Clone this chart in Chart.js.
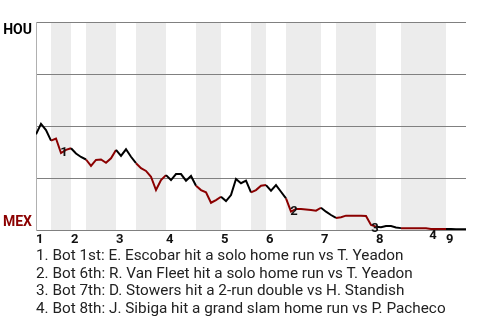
<!DOCTYPE html>
<html>
<head>
<meta charset="utf-8">
<script src="https://cdn.jsdelivr.net/npm/chart.js@4/dist/chart.umd.min.js"></script>
<style>
  html, body { margin: 0; padding: 0; background: #fff; }
  #wrap { position: relative; width: 480px; height: 320px; overflow: hidden; }
  #chartBox { position: absolute; left: 0; top: 0; width: 480px; height: 250px; }
  #notes {
    position: absolute; left: 36px; top: 247px; margin: 0; padding: 0;
    list-style: none; font: 15.3px Roboto, sans-serif; line-height: 17.7px; color: #222;
  }
</style>
</head>
<body>
<div id="wrap">
  <div id="chartBox"><canvas id="c"></canvas></div>
  <ul id="notes"></ul>
</div>
<script>
// Houston win probability (%) after each play of the game
const winProb = [
  46, 51, 48, 43, 44, 37, 38.5, 39.3, 36.8, 35.1,
  33.9, 30.8, 33.7, 33.9, 32.3, 34.5, 38.5, 35.6, 38.8, 35.2,
  32.1, 29.7, 28.4, 25.6, 19.2, 24, 26.4, 24, 26.9, 26.9,
  23.7, 26, 21.3, 19.2, 18.1, 13.1, 14.4, 16, 13.9, 16.8,
  24.5, 22.5, 23.7, 18.1, 19.2, 21.3, 21.6, 18.9, 21.6, 18.4,
  15.2, 8.8, 10.1, 10.1, 9.9, 9.6, 9.3, 10.7, 8.8, 7.2,
  5.8, 6.1, 6.9, 6.9, 6.9, 6.9, 6.7, 2.4, 1.6, 1.3,
  1.9, 1.9, 1.2, 0.9, 0.8, 0.8, 0.8, 0.8, 0.8, 0.5,
  0.5, 0.5, 0.5, 0.5, 0.4, 0.4, 0.4
];

// Play index where each half inning begins
const topHalfStarts = [0, 7, 16, 26, 37, 46, 57, 68, 82];
const bottomHalfStarts = [3, 10, 20, 32, 43, 50, 60, 73];
const lastPlay = 86;
const inningLabels = ['1', '2', '3', '4', '5', '6', '7', '8', '9'];

const awayTeam = 'HOU';
const homeTeam = 'MEX';

// Key plays: play index and description
const keyPlays = [5, 51, 67, 79];
const keyPlayNotes = [
  'Bot 1st: E. Escobar hit a solo home run vs T. Yeadon',
  'Bot 6th: R. Van Fleet hit a solo home run vs T. Yeadon',
  'Bot 7th: D. Stowers hit a 2-run double vs H. Standish',
  'Bot 8th: J. Sibiga hit a grand slam home run vs P. Pacheco'
];
// pixel nudges for the numbered markers
const markerNudge = [[3, 0], [3, 0], [4, 4], [2, 7]];

const RED = '#8b0000';
const BLACK = '#000000';
const BAND = '#ececec';

// Ranges [start, end) of the bottom halves
const bottomRanges = bottomHalfStarts.map((s, k) => [s, topHalfStarts[k + 1] ?? lastPlay]);
const inBottom = i => bottomRanges.some(([s, e]) => i >= s && i < e);

const notes = document.getElementById('notes');
keyPlayNotes.forEach((t, k) => {
  const li = document.createElement('li');
  li.textContent = (k + 1) + '. ' + t;
  notes.appendChild(li);
});

const bandsPlugin = {
  id: 'bands',
  beforeDraw(chart) {
    const { ctx, chartArea: a, scales: { x } } = chart;
    ctx.save();
    ctx.fillStyle = BAND;
    bottomRanges.forEach(([s, e]) => {
      const x0 = x.getPixelForValue(s), x1 = x.getPixelForValue(e);
      ctx.fillRect(x0, a.top, x1 - x0, a.bottom - a.top);
    });
    ctx.restore();
  }
};

const teamLabels = {
  id: 'teamLabels',
  afterDraw(chart) {
    const { ctx, chartArea: a } = chart;
    ctx.save();
    ctx.font = 'bold 14px Roboto, sans-serif';
    ctx.textAlign = 'right';
    ctx.textBaseline = 'alphabetic';
    ctx.fillStyle = BLACK;
    ctx.fillText(awayTeam, a.left - 4, a.top + 12);
    ctx.fillStyle = RED;
    ctx.fillText(homeTeam, a.left - 4, a.bottom - 4);
    ctx.restore();
  }
};

const markers = {
  id: 'markers',
  afterDatasetsDraw(chart) {
    const { ctx, scales: { x, y } } = chart;
    ctx.save();
    ctx.font = 'bold 13px Roboto, sans-serif';
    ctx.textAlign = 'center';
    ctx.textBaseline = 'middle';
    ctx.fillStyle = '#111';
    keyPlays.forEach((p, k) => {
      const px = x.getPixelForValue(p) + markerNudge[k][0];
      const py = y.getPixelForValue(winProb[p]) + markerNudge[k][1];
      ctx.fillText(String(k + 1), px, py);
    });
    ctx.restore();
  }
};

new Chart(document.getElementById('c'), {
  type: 'line',
  data: {
    datasets: [{
      data: winProb.map((v, i) => ({ x: i, y: v })),
      borderColor: BLACK,
      borderWidth: 2,
      pointRadius: 0,
      tension: 0,
      fill: false,
      segment: {
        borderColor: c => inBottom(c.p0DataIndex) ? RED : BLACK
      }
    }]
  },
  options: {
    responsive: true,
    maintainAspectRatio: false,
    animation: false,
    layout: { padding: { left: 36, right: 14, top: 22, bottom: 0 } },
    plugins: { legend: { display: false }, tooltip: { enabled: false } },
    scales: {
      x: {
        type: 'linear',
        min: 0,
        max: lastPlay,
        grid: { display: false, drawTicks: false },
        border: { display: false },
        afterBuildTicks: s => { s.ticks = topHalfStarts.map(v => ({ value: v })); },
        afterFit: s => { s.height = 20; },
        ticks: {
          autoSkip: false,
          maxRotation: 0,
          align: 'start',
          padding: 2,
          color: '#111',
          font: { family: 'Roboto', size: 13, weight: 'bold' },
          callback: (v, i) => inningLabels[i]
        }
      },
      y: {
        min: 0,
        max: 100,
        afterFit: s => { s.width = 0; },
        ticks: { display: false, stepSize: 25 },
        grid: { color: '#808080', lineWidth: 1, drawTicks: false },
        border: { display: true, color: '#b0b0b0', width: 1 }
      }
    }
  },
  plugins: [bandsPlugin, teamLabels, markers]
});
</script>
</body>
</html>
